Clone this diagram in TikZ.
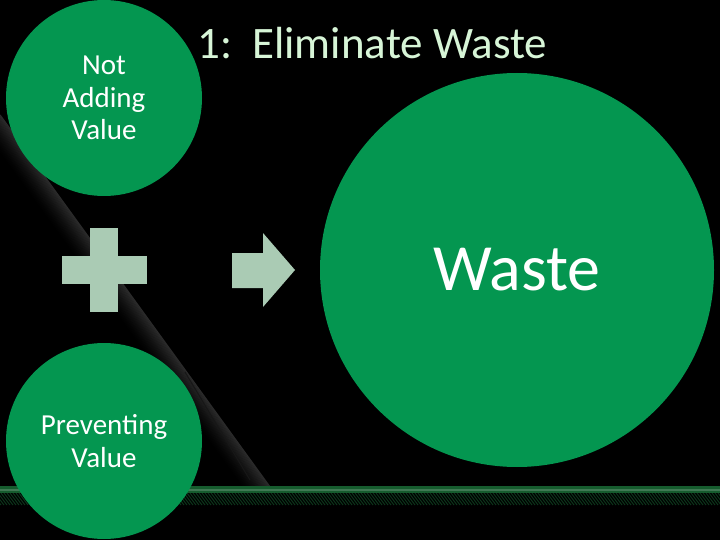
\documentclass[tikz,border=0pt]{standalone}
\usepackage{fontspec}
\setmainfont{Carlito}
\definecolor{circgreen}{RGB}{4,150,80}
\definecolor{shapegreen}{RGB}{170,203,180}
\definecolor{titlegreen}{RGB}{215,245,215}
\definecolor{bandgreen}{RGB}{22,92,46}
\definecolor{hatchgreen}{RGB}{12,52,26}
\begin{document}
\begin{tikzpicture}[x=1pt,y=-1pt,
  circ/.style={circle,fill=circgreen,inner sep=0pt,text=white,align=center,font=\fontsize{29}{32.5}\selectfont},
  sym/.style={fill=shapegreen,draw=none}]
\useasboundingbox (0,0) rectangle (720,540);
\fill[black] (0,0) rectangle (720,540);
% diagonal streak
\begin{scope}
\clip (0,0) rectangle (720,487);
\foreach \k in {0,...,24}{
  \pgfmathsetmacro{\p}{17*(1-\k/24)^1.5}
  \draw[line width=1.3pt,color=white!\p!black]
    ({0-0.809*\k},{115+0.587*\k}) -- ({270-0.809*\k},{487+0.587*\k});
}
\end{scope}
\draw[white!9!black,line width=1pt] (185,372) -- (250,480);
% bottom band
\fill[bandgreen] (0,486) rectangle (720,493);
\fill[white!18!bandgreen] (0,488.5) rectangle (720,490.5);
\begin{scope}
\clip (0,493) rectangle (720,505);
\foreach \x in {-20,-17,...,730}{
  \draw[hatchgreen,line width=1pt] (\x,493) -- (\x+9,505);
}
\end{scope}
% circles
\node[circ,minimum size=196pt] (nav) at (104,98) {Not\\Adding\\Value};
\node[circ,minimum size=196pt] (pv) at (104,441) {Preventing\\Value};
\node[circle,fill=circgreen,inner sep=0pt,minimum size=394pt] (waste) at (517,270) {};
\node[text=white,font=\fontsize{66}{72}\selectfont,anchor=base] (wastetext) at (517,290) {Waste};
% title
\node[text=titlegreen,font=\fontsize{45}{52}\selectfont,anchor=base west,inner sep=0pt] (title) at (197,59) {1:\ \ Eliminate Waste};
% plus
\fill[sym] (90,228) rectangle (118,312);
\fill[sym] (62,256) rectangle (147,284);
% arrow
\fill[sym] (232,253) -- (263,253) -- (263,233) -- (295,270) -- (263,307) -- (263,288) -- (232,288) -- cycle;
\end{tikzpicture}
\end{document}
